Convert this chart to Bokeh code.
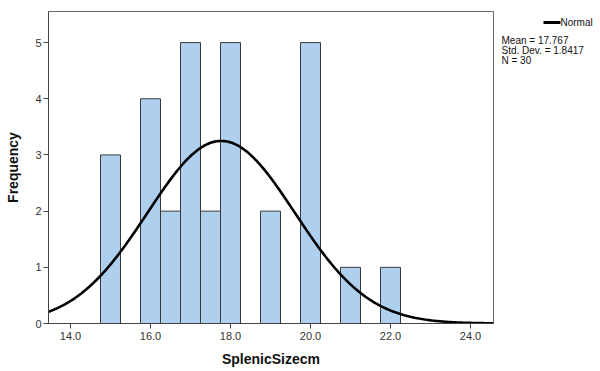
import numpy as np
from bokeh.plotting import figure
from bokeh.layouts import row
from bokeh.models import Range1d, FixedTicker
from bokeh.core.properties import value
from bokeh.embed import file_html
from bokeh.resources import INLINE

# ---- data ----
bin_centers = [15.0, 16.0, 16.5, 17.0, 17.5, 18.0, 19.0, 20.0, 21.0, 22.0]
frequencies = [3, 4, 2, 5, 2, 5, 2, 5, 1, 1]
bin_width = 0.5
mean_value = 17.767
std_dev = 1.8417
n_count = 30
x_ticks = [14, 16, 18, 20, 22, 24]
y_ticks = [0, 1, 2, 3, 4, 5]
x_label = "SplenicSizecm"
y_label = "Frequency"
legend_label = "Normal"
stats_lines = [f"Mean = {mean_value}", f"Std. Dev. = {std_dev}", f"N = {n_count}"]

FONT = "Liberation Sans"
x_lo, x_hi = 13.45, 24.575
y_lo, y_hi = 0.0, 5.553

# ---------------- main histogram ----------------
p = figure(frame_width=445, frame_height=312,
           x_range=Range1d(x_lo, x_hi), y_range=Range1d(y_lo, y_hi),
           output_backend="svg", toolbar_location=None,
           min_border_left=48, min_border_right=2, min_border_top=11, min_border_bottom=48)
p.xgrid.visible = False
p.ygrid.visible = False
p.background_fill_color = "white"
p.border_fill_color = "white"
p.outline_line_color = "#6a6a6a"
p.outline_line_width = 1

p.vbar(x=bin_centers, top=frequencies, width=bin_width, bottom=0,
       fill_color="#AED0EE", line_color="#3a3a3a", line_width=1)

# fitted normal curve (from the chart's stated mean, sd, N and bin width)
xs = np.linspace(x_lo, x_hi, 300)
ys = n_count * bin_width * np.exp(-0.5 * ((xs - mean_value) / std_dev) ** 2) / (std_dev * np.sqrt(2 * np.pi))
p.line(xs, ys, line_color="black", line_width=2.6)

for ax in (p.xaxis[0], p.yaxis[0]):
    ax.axis_line_color = "#444444"
    ax.major_tick_line_color = "#444444"
    ax.major_tick_out = 5
    ax.major_tick_in = 0
    ax.minor_tick_line_color = None
    ax.major_label_text_font = FONT
    ax.major_label_text_font_size = "11px"
    ax.major_label_text_color = "#333333"
    ax.axis_label_text_font = FONT
    ax.axis_label_text_font_size = "14px"
    ax.axis_label_text_font_style = "bold"
    ax.axis_label_text_color = "#111111"
    ax.major_label_standoff = 3

p.xaxis.axis_label_standoff = 8
p.yaxis.axis_label_standoff = 11
p.yaxis.major_label_standoff = 2
p.xaxis.ticker = FixedTicker(ticks=x_ticks)
p.xaxis.major_label_overrides = {t: f"{t:.1f}" for t in x_ticks}
p.yaxis.ticker = FixedTicker(ticks=y_ticks)
p.xaxis.axis_label = x_label
p.yaxis.axis_label = y_label

# ---------------- legend / statistics panel (pixel coordinates) ----------------
q = figure(frame_width=105, frame_height=371,
           x_range=Range1d(0, 105), y_range=Range1d(371, 0),
           x_axis_type=None, y_axis_type=None,
           output_backend="svg", toolbar_location=None,
           min_border_left=0, min_border_right=0, min_border_top=0, min_border_bottom=0)
q.xgrid.visible = False
q.ygrid.visible = False
q.outline_line_color = None
q.background_fill_color = "white"
q.border_fill_color = "white"

# legend swatch + label
q.line(x=[48, 65], y=[11, 11], line_color="black", line_width=3)
q.text(x=[65], y=[11], text=[legend_label],
       text_font=value(FONT), text_font_size="10px", text_color="#111111",
       text_baseline="middle", text_align="left")

q.text(x=[6, 6, 6], y=[29, 39, 49], text=stats_lines,
       text_font=value(FONT), text_font_size="10px", text_color="#111111",
       text_baseline="middle", text_align="left")

layout = row(p, q)
open("out.html", "w").write(file_html(layout, INLINE))
